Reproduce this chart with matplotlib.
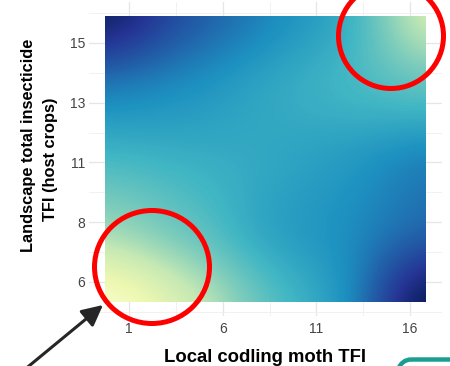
import matplotlib
matplotlib.use("Agg")
import matplotlib.pyplot as plt
from matplotlib.patches import Ellipse, FancyArrowPatch, FancyBboxPatch, Rectangle

plt.rcParams["font.family"] = ["Liberation Sans", "DejaVu Sans"]

# nodes of the fitted surface (edges of the raster)
codling_tfi = [-0.28, 4.0, 8.29, 12.57, 16.85]
landscape_tfi = [5.25, 7.94, 10.64, 13.33, 16.02]
# relative fill level, rows bottom -> top
fill_level = [
    [0.06, 0.22, 0.44, 0.63, 0.98],
    [0.31, 0.41, 0.55, 0.63, 0.74],
    [0.49, 0.52, 0.55, 0.59, 0.65],
    [0.68, 0.63, 0.56, 0.50, 0.44],
    [0.95, 0.78, 0.65, 0.52, 0.25],
]

x_ticks = [1, 6, 11, 16]
x_minor = [3.5, 8.5, 13.5]
y_ticks = [6, 8.25, 10.5, 12.75, 15]
y_ticklabels = ["6", "8", "11", "13", "15"]
y_minor = [4.875, 7.125, 9.375, 11.625, 13.875, 16.125]

W, H = 450, 366
fig = plt.figure(figsize=(W / 100, H / 100), dpi=100)
fig.patch.set_facecolor("white")

ax = fig.add_axes([89 / W, 50 / H, 353 / W, 314.4 / H])

# image cells centred on the nodes, smoothed by the library and clipped
# back to the raster rectangle
x0, x1 = codling_tfi[0], codling_tfi[-1]
y0, y1 = landscape_tfi[0], landscape_tfi[-1]
hx = (x1 - x0) / (len(codling_tfi) - 1) / 2
hy = (y1 - y0) / (len(landscape_tfi) - 1) / 2
im = ax.imshow(fill_level, origin="lower", cmap="YlGnBu", vmin=0, vmax=1,
               extent=[x0 - hx, x1 + hx, y0 - hy, y1 + hy],
               interpolation="catrom", interpolation_stage="data",
               aspect="auto", zorder=2)
clip = Rectangle((x0, y0), x1 - x0, y1 - y0, transform=ax.transData)
im.set_clip_path(clip)

ax.set_xlim(-1.14, 17.71)
ax.set_ylim(4.71, 16.56)
ax.set_xticks(x_ticks)
ax.set_xticks(x_minor, minor=True)
ax.set_yticks(y_ticks, y_ticklabels)
ax.set_yticks(y_minor, minor=True)
ax.set_axisbelow(True)
ax.grid(which="major", color="#e6e6e6", lw=0.9)
ax.grid(which="minor", color="#efefef", lw=0.6)
for s in ax.spines.values():
    s.set_visible(False)
ax.tick_params(which="both", length=0, labelsize=10, labelcolor="#444444")
ax.tick_params(axis="x", pad=4.0)
ax.tick_params(axis="y", pad=2.9)


def fx(x):
    return x / W


def fy(y):
    return 1 - y / H


fig.text(fx(265.5), fy(362), "Local codling moth TFI", ha="center",
         va="baseline", fontsize=13.3, fontweight="bold")
fig.text(fx(33), fy(145), "Landscape total insecticide", rotation=90,
         rotation_mode="anchor", ha="center", va="baseline",
         fontsize=11.8, fontweight="bold")
fig.text(fx(55), fy(159.5), "TFI (host crops)", rotation=90,
         rotation_mode="anchor", ha="center", va="baseline",
         fontsize=11.8, fontweight="bold")

# annotation layer in pixel coordinates
ov = fig.add_axes([0, 0, 1, 1])
ov.set_xlim(0, W)
ov.set_ylim(H, 0)
ov.axis("off")

ov.add_patch(Ellipse((152, 267), 115, 113, fill=False, ec="#ff0000", lw=3.6))
ov.add_patch(Ellipse((391, 36), 105, 105, fill=False, ec="#ff0000", lw=3.6))

arrow_style = "-|>,head_length=0.9,head_width=0.45"
ov.add_patch(FancyArrowPatch((18, 375), (103, 305), arrowstyle=arrow_style,
                             mutation_scale=14, color="#262626", lw=2.2,
                             shrinkA=0, shrinkB=0))
ov.add_patch(FancyArrowPatch((480, -38), (441, 0.5), arrowstyle=arrow_style,
                             mutation_scale=14, color="#262626", lw=2.2,
                             shrinkA=0, shrinkB=0))

ov.add_patch(FancyBboxPatch((393, 359.5), 120, 60,
                            boxstyle="round,pad=0,rounding_size=18",
                            fill=False, ec="#1a9e92", lw=3.2))

fig.savefig("out.png", dpi=100)
